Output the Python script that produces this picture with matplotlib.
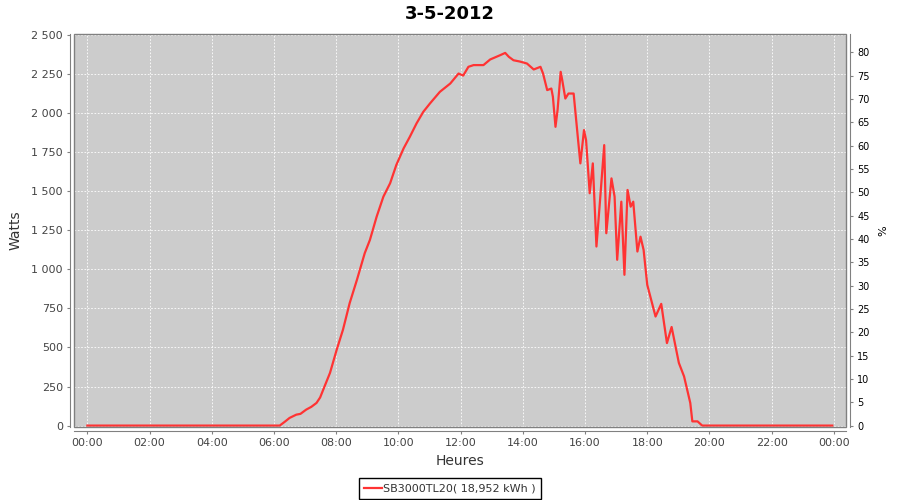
import matplotlib
matplotlib.use("Agg")
import matplotlib.pyplot as plt
from matplotlib.patches import Rectangle
from matplotlib.ticker import FuncFormatter, MultipleLocator

# ---- data ----
times = ["00:00", "06:11", "06:21", "06:30", "06:43", "06:51", "07:02", "07:12", "07:22",
         "07:29", "07:35", "07:48", "08:01", "08:13", "08:26", "08:40", "08:55", "09:05",
         "09:18", "09:31", "09:44", "09:56", "10:10", "10:22", "10:35", "10:48", "11:01",
         "11:20", "11:40", "11:56", "12:05", "12:15", "12:25", "12:44", "12:57", "13:16",
         "13:26", "13:33", "13:42", "13:54", "14:08", "14:21", "14:34", "14:39", "14:47",
         "14:55", "14:58", "15:03", "15:07", "15:13", "15:16", "15:22", "15:28", "15:38",
         "15:46", "15:51", "15:58", "16:02", "16:09", "16:15", "16:22", "16:29", "16:37",
         "16:41", "16:51", "16:57", "17:02", "17:10", "17:16", "17:22", "17:28", "17:33",
         "17:41", "17:47", "17:53", "18:00", "18:16", "18:27", "18:38", "18:47", "19:01",
         "19:11", "19:23", "19:27", "19:37", "19:46", "23:57"]
watts = [0, 0, 25, 49, 70, 75, 102, 120, 145,
         180, 230, 337, 486, 613, 784, 933, 1103, 1188,
         1337, 1465, 1551, 1668, 1774, 1848, 1934, 2008, 2062,
         2136, 2189, 2253, 2240, 2296, 2307, 2307, 2343, 2370,
         2385, 2360, 2338, 2330, 2317, 2279, 2296, 2253, 2147,
         2157, 2104, 1912, 2019, 2264, 2211, 2093, 2125, 2125,
         1848, 1678, 1891, 1827, 1487, 1678, 1146, 1444, 1795,
         1231, 1582, 1465, 1061, 1433, 965, 1508, 1401, 1433,
         1114, 1209, 1124, 901, 698, 779, 528, 631, 401,
         315, 145, 27, 27, 0, 0]
series_label = "SB3000TL20( 18,952 kWh )"
title = "3-5-2012"
x_ticks_hours = list(range(0, 25, 2))
x_tick_labels = ["%02d:00" % (h % 24) for h in x_ticks_hours]

hours = [int(t[:2]) + int(t[3:]) / 60.0 for t in times]

GRAY = "#808080"
fig = plt.figure(figsize=(9, 5), dpi=100)
ax = fig.add_axes([74 / 900, 73 / 500, 772 / 900, 393 / 500])
ax.set_facecolor("#cccccc")

ax.plot(hours, watts, color="#ff3333", lw=1.6, solid_joinstyle="round",
        label=series_label, zorder=3)

ax.set_xlim(-0.43, 24.39)
ax.set_ylim(-9, 2506)

ax.set_xticks(x_ticks_hours)
ax.set_xticklabels(x_tick_labels)
ax.yaxis.set_major_locator(MultipleLocator(250))
ax.yaxis.set_major_formatter(FuncFormatter(lambda v, p: f"{int(v):,}".replace(",", " ")))

ax.grid(True, color="white", linestyle=(0, (2, 2)), linewidth=0.6)
ax.set_axisbelow(True)

for s in ["top", "right"]:
    ax.spines[s].set_visible(False)
for s in ["left", "bottom"]:
    ax.spines[s].set_position(("outward", 3))
    ax.spines[s].set_color(GRAY)
ax.tick_params(axis="both", direction="out", length=2, color=GRAY, labelsize=8,
               labelcolor="#444444", pad=3)

ax.add_patch(Rectangle((0, 0), 1, 1, transform=ax.transAxes, fill=False,
                       edgecolor=GRAY, lw=1.0, clip_on=False, zorder=5))

ax.set_xlabel("Heures", fontsize=10, color="#333333", labelpad=4)
ax.set_ylabel("Watts", fontsize=10, color="#333333", labelpad=6)

ax2 = ax.twinx()
ax2.set_ylim(-0.3, 83.9)
ax2.yaxis.set_major_locator(MultipleLocator(5))
for s in ["top", "left", "bottom"]:
    ax2.spines[s].set_visible(False)
ax2.spines["right"].set_position(("outward", 3))
ax2.spines["right"].set_color(GRAY)
ax2.tick_params(axis="y", direction="out", length=2, color=GRAY, labelsize=7,
                labelcolor="black", pad=3)
ax2.set_ylabel("%", fontsize=8, color="black", labelpad=6)

fig.suptitle(title, fontsize=13, fontweight="bold", y=0.972, va="center")

leg = fig.legend(loc="lower center", bbox_to_anchor=(0.5, 0.002), fontsize=8,
                 frameon=True, fancybox=False, edgecolor="black", framealpha=1,
                 handlelength=1.6, handletextpad=0.1, borderpad=0.5,
                 borderaxespad=0)
leg.get_frame().set_linewidth(1.0)
for t in leg.get_texts():
    t.set_color("#333333")

fig.savefig("out.png", dpi=100)
